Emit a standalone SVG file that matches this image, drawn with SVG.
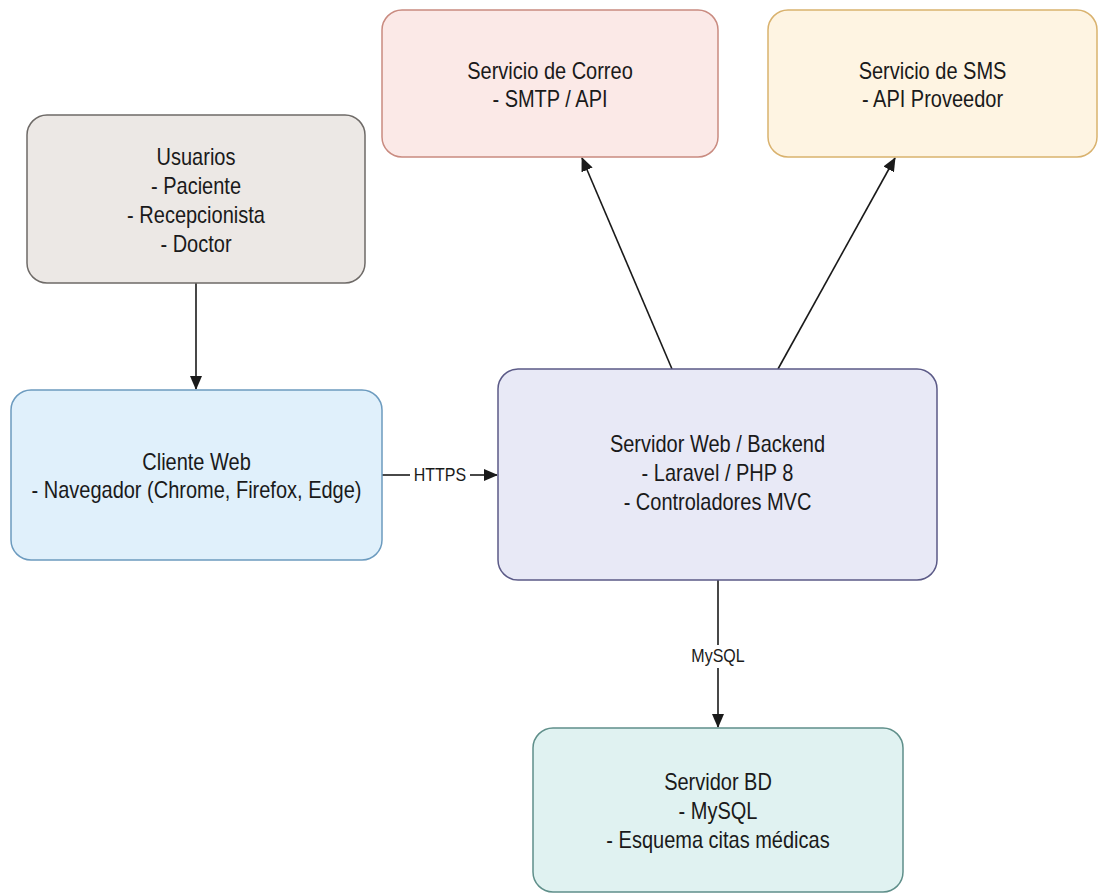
<svg xmlns="http://www.w3.org/2000/svg" width="1104" height="893" viewBox="0 0 1104 893">
<defs>
<style>
.box{stroke-width:1.5}
.t{font-family:"Liberation Sans",Arial,sans-serif;font-size:20px;fill:#1a1a1a;text-anchor:middle}
.lbl{font-family:"Liberation Sans",Arial,sans-serif;font-size:16px;fill:#1a1a1a;text-anchor:middle}
.edge{stroke:#1a1a1a;stroke-width:1.6;fill:none}
</style>
<marker id="arr" viewBox="0 0 14 12" refX="13" refY="6" markerWidth="14" markerHeight="12" markerUnits="userSpaceOnUse" orient="auto">
<path d="M0,0 L14,6 L0,12 Z" fill="#1a1a1a"/>
</marker>
</defs>
<rect width="1104" height="893" fill="#ffffff"/>
<g id="connectors">
<line class="edge" x1="196" y1="283" x2="196" y2="389" marker-end="url(#arr)"/>
<line class="edge" x1="382" y1="475" x2="410" y2="475"/>
<line class="edge" x1="470" y1="475" x2="497" y2="475" marker-end="url(#arr)"/>
<rect x="410" y="465" width="60" height="20" fill="#ffffff"/>
<text class="lbl" transform="translate(440,481) scale(1,1.1)">HTTPS</text>
<line class="edge" x1="672" y1="369" x2="582" y2="158" marker-end="url(#arr)"/>
<line class="edge" x1="778" y1="369" x2="895" y2="158" marker-end="url(#arr)"/>
<line class="edge" x1="718" y1="580" x2="718" y2="645"/>
<line class="edge" x1="718" y1="668" x2="718" y2="727" marker-end="url(#arr)"/>
<text class="lbl" transform="translate(718,662) scale(1,1.1)">MySQL</text>
</g>
<g id="correo">
<rect class="box" x="382" y="10" width="336" height="147" rx="20" fill="#fbe9e7" stroke="#c98b80"/>
<text class="t" transform="translate(550,84.5) scale(1,1.2)"><tspan x="0" y="-5">Servicio de Correo</tspan><tspan x="0" y="19">- SMTP / API</tspan></text>
</g>
<g id="sms">
<rect class="box" x="768" y="10" width="329" height="147" rx="20" fill="#fef4e2" stroke="#d9b26e"/>
<text class="t" transform="translate(932.5,84.5) scale(1,1.2)"><tspan x="0" y="-5">Servicio de SMS</tspan><tspan x="0" y="19">- API Proveedor</tspan></text>
</g>
<g id="usuarios">
<rect class="box" x="27" y="115" width="338" height="168" rx="20" fill="#ece8e5" stroke="#6e6a67"/>
<text class="t" transform="translate(196,200) scale(1,1.2)"><tspan x="0" y="-29">Usuarios</tspan><tspan x="0" y="-5">- Paciente</tspan><tspan x="0" y="19">- Recepcionista</tspan><tspan x="0" y="43">- Doctor</tspan></text>
</g>
<g id="cliente">
<rect class="box" x="11" y="390" width="371" height="170" rx="20" fill="#e0f0fb" stroke="#6c9bbf"/>
<text class="t" transform="translate(196.5,475.5) scale(1,1.2)"><tspan x="0" y="-5">Cliente Web</tspan><tspan x="0" y="19">- Navegador (Chrome, Firefox, Edge)</tspan></text>
</g>
<g id="servidor">
<rect class="box" x="498" y="369" width="439" height="211" rx="20" fill="#e8e9f6" stroke="#5b5a87"/>
<text class="t" transform="translate(717.5,472.5) scale(1,1.2)"><tspan x="0" y="-17">Servidor Web / Backend</tspan><tspan x="0" y="7">- Laravel / PHP 8</tspan><tspan x="0" y="31">- Controladores MVC</tspan></text>
</g>
<g id="bd">
<rect class="box" x="533" y="728" width="370" height="164" rx="20" fill="#e0f2f1" stroke="#5f8f8a"/>
<text class="t" transform="translate(718,810.5) scale(1,1.2)"><tspan x="0" y="-17">Servidor BD</tspan><tspan x="0" y="7">- MySQL</tspan><tspan x="0" y="31">- Esquema citas médicas</tspan></text>
</g>
</svg>
